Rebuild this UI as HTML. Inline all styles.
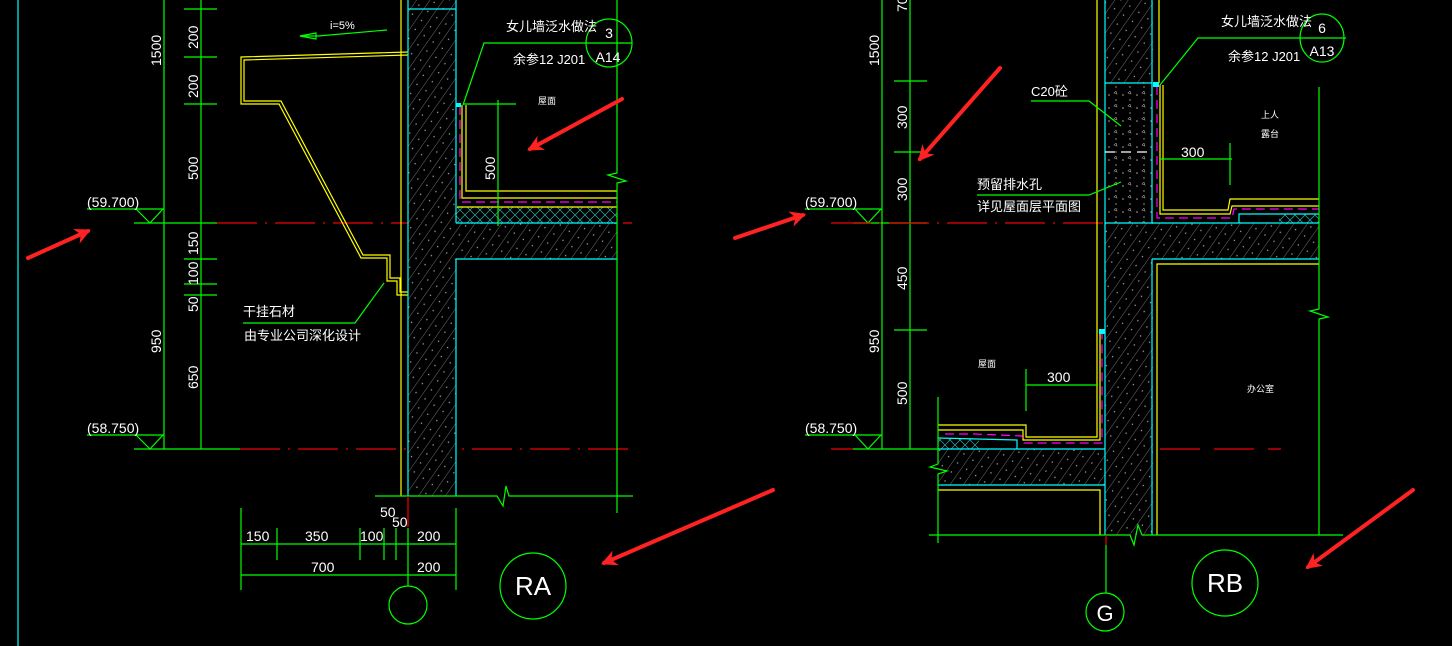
<!DOCTYPE html>
<html><head><meta charset="utf-8"><style>
html,body{margin:0;padding:0;background:#000;}
svg{display:block}
text{font-family:"Liberation Sans","Noto Sans CJK SC",sans-serif;fill:#fff}
</style></head><body>
<svg width="1452" height="646" viewBox="0 0 1452 646" xmlns="http://www.w3.org/2000/svg">
<defs>
<pattern id="h" width="11" height="11" patternUnits="userSpaceOnUse" patternTransform="rotate(35)">
<rect width="11" height="11" fill="#000"/><line x1="0" y1="0" x2="0" y2="11" stroke="#8a8a8a" stroke-width="0.8"/>
<circle cx="5" cy="6" r="0.7" fill="#aaa"/></pattern>
<pattern id="d" width="14" height="13" patternUnits="userSpaceOnUse">
<rect width="14" height="13" fill="#000"/><circle cx="3" cy="4" r="0.8" fill="#aaa"/><circle cx="10" cy="9" r="0.7" fill="#aaa"/><path d="M8 2 l2 -2 l1 3z" fill="none" stroke="#999" stroke-width="0.6"/></pattern>
<pattern id="x" width="10" height="10" patternUnits="userSpaceOnUse">
<rect width="10" height="10" fill="#000"/><path d="M0 0L10 10M10 0L0 10" stroke="#3aa" stroke-width="0.7"/></pattern>
<marker id="ah" viewBox="0 0 10 10" refX="8" refY="5" markerWidth="4" markerHeight="4" orient="auto" markerUnits="strokeWidth">
<path d="M0,0 L10,5 L0,10 L3,5z" fill="#f22"/></marker>
</defs>
<g fill="none" stroke-width="1.2">
<!-- LEFT PANEL -->
<line x1="18" y1="0" x2="18" y2="646" stroke="#0ff"/>
<line x1="164" y1="0" x2="164" y2="449" stroke="#0f0"/>
<line x1="201" y1="0" x2="201" y2="449" stroke="#0f0"/>
<g stroke="#0f0">
<line x1="184" y1="9" x2="217" y2="9"/><line x1="184" y1="57" x2="217" y2="57"/><line x1="184" y1="104" x2="217" y2="104"/>
<line x1="184" y1="259" x2="217" y2="259"/><line x1="184" y1="284" x2="217" y2="284"/><line x1="184" y1="295" x2="217" y2="295"/>
<line x1="87" y1="209" x2="164" y2="209"/><polyline points="136,209 150,223 163,209"/>
<line x1="134" y1="223" x2="217" y2="223"/>
<line x1="87" y1="435" x2="164" y2="435"/><polyline points="136,435 150,449 163,435"/>
<line x1="134" y1="449" x2="240" y2="449"/>
</g>
<line x1="217" y1="223" x2="632" y2="223" stroke="#e00" stroke-dasharray="40,8,2,8"/>
<line x1="240" y1="449" x2="632" y2="449" stroke="#e00" stroke-dasharray="40,8,2,8"/>
<polyline points="387,30 318,36 300,36" stroke="#0f0"/><polygon points="300,36 316,33 316,39" stroke="#0f0"/>
<path d="M408,52 L241,57 L241,104 L279,104 L361,258 L387,258 L387,281 L397,281 L397,295 L408,295" stroke="#ff0"/>
<path d="M408,55 L244,60 L244,101 L281,101 L363,255 L390,255 L390,278 L400,278 L400,292 L408,292" stroke="#ff0"/>
<line x1="401" y1="0" x2="401" y2="496" stroke="#ff0"/>
<rect x="408" y="0" width="48" height="496" fill="url(#h)" stroke="none"/>
<rect x="456" y="223" width="161" height="36" fill="url(#h)" stroke="none"/>
<rect x="456" y="207" width="161" height="16" fill="url(#x)" stroke="none"/>
<line x1="408" y1="0" x2="408" y2="496" stroke="#0ff"/>
<line x1="456" y1="0" x2="456" y2="223" stroke="#0ff"/>
<line x1="456" y1="259" x2="456" y2="496" stroke="#0ff"/>
<line x1="408" y1="9" x2="456" y2="9" stroke="#0ff"/>
<line x1="456" y1="223" x2="617" y2="223" stroke="#0ff"/>
<line x1="456" y1="259" x2="617" y2="259" stroke="#0ff"/>
<polyline points="462,105 462,198 617,198" stroke="#ff0"/>
<polyline points="466,105 466,191 617,191" stroke="#ff0"/>
<line x1="457" y1="207" x2="617" y2="207" stroke="#ff0"/>
<polyline points="460,106 460,202 617,202" stroke="#f0f" stroke-dasharray="9,5"/>
<rect x="456" y="103" width="5" height="4" fill="#0ff" stroke="none"/>
<polyline points="617,0 617,173 608,175 626,181 617,183 617,513" stroke="#0f0"/>
<polyline points="463,105 484,43 632,43" stroke="#0f0"/>
<ellipse cx="609" cy="43" rx="23" ry="24" stroke="#0f0"/>
<line x1="463" y1="104" x2="516" y2="104" stroke="#0f0"/>
<line x1="498" y1="100" x2="498" y2="226" stroke="#0f0"/>
<polyline points="384,283 355,323 243,323" stroke="#0f0"/>
<polyline points="375,496 497,496 503,506 506,486 509,496 633,496" stroke="#0f0"/>
<line x1="408" y1="496" x2="408" y2="527" stroke="#e00"/>
<g stroke="#0f0">
<line x1="241" y1="508" x2="241" y2="590"/>
<line x1="456" y1="508" x2="456" y2="590"/>
<line x1="277" y1="528" x2="277" y2="560"/>
<line x1="360" y1="528" x2="360" y2="560"/>
<line x1="384" y1="528" x2="384" y2="560"/>
<line x1="396" y1="528" x2="396" y2="560"/>
<line x1="408" y1="528" x2="408" y2="586"/>
<line x1="241" y1="544" x2="456" y2="544"/>
<line x1="241" y1="575" x2="456" y2="575"/>
<ellipse cx="408" cy="605" rx="19" ry="19"/>
<ellipse cx="533" cy="586" rx="33" ry="33"/>
</g>

<!-- RIGHT PANEL -->
<g stroke="#0f0">
<line x1="882" y1="0" x2="882" y2="449"/>
<line x1="910" y1="0" x2="910" y2="449"/>
<line x1="894" y1="81" x2="927" y2="81"/><line x1="894" y1="152" x2="927" y2="152"/><line x1="894" y1="330" x2="927" y2="330"/>
<line x1="805" y1="209" x2="882" y2="209"/><polyline points="855,209 868,223 881,209"/>
<line x1="853" y1="223" x2="927" y2="223"/>
<line x1="805" y1="435" x2="882" y2="435"/><polyline points="855,435 868,449 881,435"/>
<line x1="853" y1="449" x2="939" y2="449"/>
</g>
<line x1="831" y1="223" x2="1105" y2="223" stroke="#e00" stroke-dasharray="40,8,2,8"/>
<line x1="1106" y1="449" x2="1281" y2="449" stroke="#e00" stroke-dasharray="40,14"/>
<line x1="831" y1="449" x2="853" y2="449" stroke="#e00"/>
<rect x="1105" y="0" width="48" height="83" fill="url(#h)" stroke="none"/>
<rect x="1105" y="83" width="48" height="140" fill="url(#d)" stroke="none"/>
<rect x="1105" y="223" width="48" height="312" fill="url(#h)" stroke="none"/>
<rect x="1153" y="223" width="166" height="36" fill="url(#h)" stroke="none"/>
<rect x="938" y="449" width="167" height="36" fill="url(#h)" stroke="none"/>
<rect x="1279" y="214" width="40" height="9" fill="url(#x)" stroke="none"/>
<rect x="938" y="439" width="41" height="10" fill="url(#x)" stroke="none"/>
<line x1="1097" y1="0" x2="1097" y2="331" stroke="#ff0"/>
<line x1="1105" y1="0" x2="1105" y2="535" stroke="#0ff"/>
<line x1="1152" y1="0" x2="1152" y2="223" stroke="#0ff"/>
<line x1="1152" y1="259" x2="1152" y2="535" stroke="#0ff"/>
<line x1="1159" y1="0" x2="1159" y2="83" stroke="#ff0"/>
<line x1="1105" y1="83" x2="1152" y2="83" stroke="#0ff"/>
<line x1="1105" y1="152" x2="1152" y2="152" stroke="#fff" stroke-dasharray="10,6"/>
<line x1="1105" y1="223" x2="1319" y2="223" stroke="#0ff"/>
<line x1="1152" y1="259" x2="1319" y2="259" stroke="#0ff"/>
<polyline points="1157,535 1157,264 1319,264" stroke="#ff0"/>
<polyline points="1160,85 1160,214 1230,214 1232,206 1319,206" stroke="#ff0"/>
<polyline points="1163,85 1163,210 1228,210 1230,199 1319,199" stroke="#ff0"/>
<polyline points="1157,86 1157,218 1232,218 1234,209 1319,209" stroke="#f0f" stroke-dasharray="9,5"/>
<polyline points="1239,223 1239,214 1319,214" stroke="#0ff"/>
<rect x="1153" y="82" width="6" height="5" fill="#0ff" stroke="none"/>
<polyline points="1319,87 1319,309 1310,311 1328,317 1319,319 1319,535" stroke="#0f0"/>
<polyline points="1160,85 1198,38 1346,38" stroke="#0f0"/>
<ellipse cx="1322" cy="38" rx="22" ry="24" stroke="#0f0"/>
<polyline points="1031,101 1089,101 1121,126" stroke="#0f0"/>
<polyline points="977,195 1089,195 1121,182" stroke="#0f0"/>
<line x1="1230" y1="143" x2="1230" y2="185" stroke="#0f0"/>
<line x1="1160" y1="159" x2="1232" y2="159" stroke="#0f0"/>
<polyline points="938,425 1026,425 1026,437 1097,437 1097,331" stroke="#ff0"/>
<polyline points="938,430 1023,430 1023,440 1100,440 1100,331" stroke="#ff0"/>
<polyline points="945,434 975,434 1022,436 1024,443 1102,443 1102,331" stroke="#f0f" stroke-dasharray="9,5"/>
<polyline points="938,438 1017,440 1017,449" stroke="#0ff"/>
<rect x="1099" y="329" width="6" height="5" fill="#0ff" stroke="none"/>
<line x1="938" y1="449" x2="1105" y2="449" stroke="#0ff"/>
<line x1="938" y1="485" x2="1105" y2="485" stroke="#0ff"/>
<polyline points="938,490 1100,490 1100,535" stroke="#ff0"/>
<polyline points="938,397 938,464 930,467 947,471 938,474 938,543" stroke="#0f0"/>
<line x1="1026" y1="369" x2="1026" y2="411" stroke="#0f0"/>
<line x1="1026" y1="385" x2="1098" y2="385" stroke="#0f0"/>
<polyline points="929,535 1130,535 1134,545 1138,525 1142,535 1343,535" stroke="#0f0"/>
<line x1="1106" y1="535" x2="1106" y2="545" stroke="#e00"/>
<line x1="1106" y1="545" x2="1106" y2="593" stroke="#0f0"/>
<ellipse cx="1105" cy="612" rx="19" ry="19" stroke="#0f0"/>
<ellipse cx="1225" cy="583" rx="33" ry="33" stroke="#0f0"/>
</g>
<!-- red arrows -->
<g stroke="#f22" stroke-width="4" stroke-linecap="round" marker-end="url(#ah)">
<line x1="28" y1="258" x2="88" y2="231"/>
<line x1="622" y1="99" x2="530" y2="149"/>
<line x1="773" y1="490" x2="604" y2="563"/>
<line x1="1000" y1="68" x2="920" y2="159"/>
<line x1="735" y1="238" x2="803" y2="215"/>
<line x1="1413" y1="490" x2="1308" y2="567"/>
</g>
<g font-size="14">
<text transform="translate(161,66) rotate(-90)">1500</text>
<text transform="translate(198,49) rotate(-90)">200</text>
<text transform="translate(198,98) rotate(-90)">200</text>
<text transform="translate(198,180) rotate(-90)">500</text>
<text transform="translate(198,255) rotate(-90)">150</text>
<text transform="translate(198,285) rotate(-90)">100</text>
<text transform="translate(198,312) rotate(-90)">50</text>
<text transform="translate(161,353) rotate(-90)">950</text>
<text transform="translate(198,389) rotate(-90)">650</text>
<text transform="translate(495,180) rotate(-90)">500</text>
<text x="87" y="207">(59.700)</text>
<text x="87" y="433">(58.750)</text>
<text x="246" y="541">150</text>
<text x="305" y="541">350</text>
<text x="360" y="541">100</text>
<text x="417" y="541">200</text>
<text x="311" y="572">700</text>
<text x="417" y="572">200</text>
<text x="380" y="517">50</text>
<text x="392" y="527">50</text>
<text transform="translate(879,66) rotate(-90)">1500</text>
<text transform="translate(907,12) rotate(-90)">70</text>
<text transform="translate(907,129) rotate(-90)">300</text>
<text transform="translate(907,201) rotate(-90)">300</text>
<text transform="translate(907,290) rotate(-90)">450</text>
<text transform="translate(879,353) rotate(-90)">950</text>
<text transform="translate(907,405) rotate(-90)">500</text>
<text x="805" y="207">(59.700)</text>
<text x="805" y="433">(58.750)</text>
<text x="1181" y="157">300</text>
<text x="1047" y="382">300</text>
</g>
<g font-size="13">
<text x="506" y="31">女儿墙泛水做法</text>
<text x="513" y="64">余参12 J201</text>
<text x="1221" y="26">女儿墙泛水做法</text>
<text x="1228" y="61">余参12 J201</text>
<text x="243" y="316">干挂石材</text>
<text x="244" y="340">由专业公司深化设计</text>
<text x="1031" y="96">C20砼</text>
<text x="977" y="189">预留排水孔</text>
<text x="977" y="211">详见屋面层平面图</text>
<text x="330" y="29" font-size="11">i=5%</text>
</g>
<g font-size="9">
<text x="538" y="104">屋面</text>
<text x="978" y="367">屋面</text>
<text x="1261" y="118">上人</text>
<text x="1261" y="137">露台</text>
<text x="1247" y="392">办公室</text>
</g>
<g font-size="14" text-anchor="middle">
<text x="609" y="38">3</text><text x="608" y="62">A14</text>
<text x="1322" y="33">6</text><text x="1322" y="56">A13</text>
</g>
<g font-size="26" text-anchor="middle">
<text x="533" y="595">RA</text>
<text x="1225" y="592">RB</text>
<text x="1105" y="621" font-size="22">G</text>
</g>
</svg>
</body></html>
